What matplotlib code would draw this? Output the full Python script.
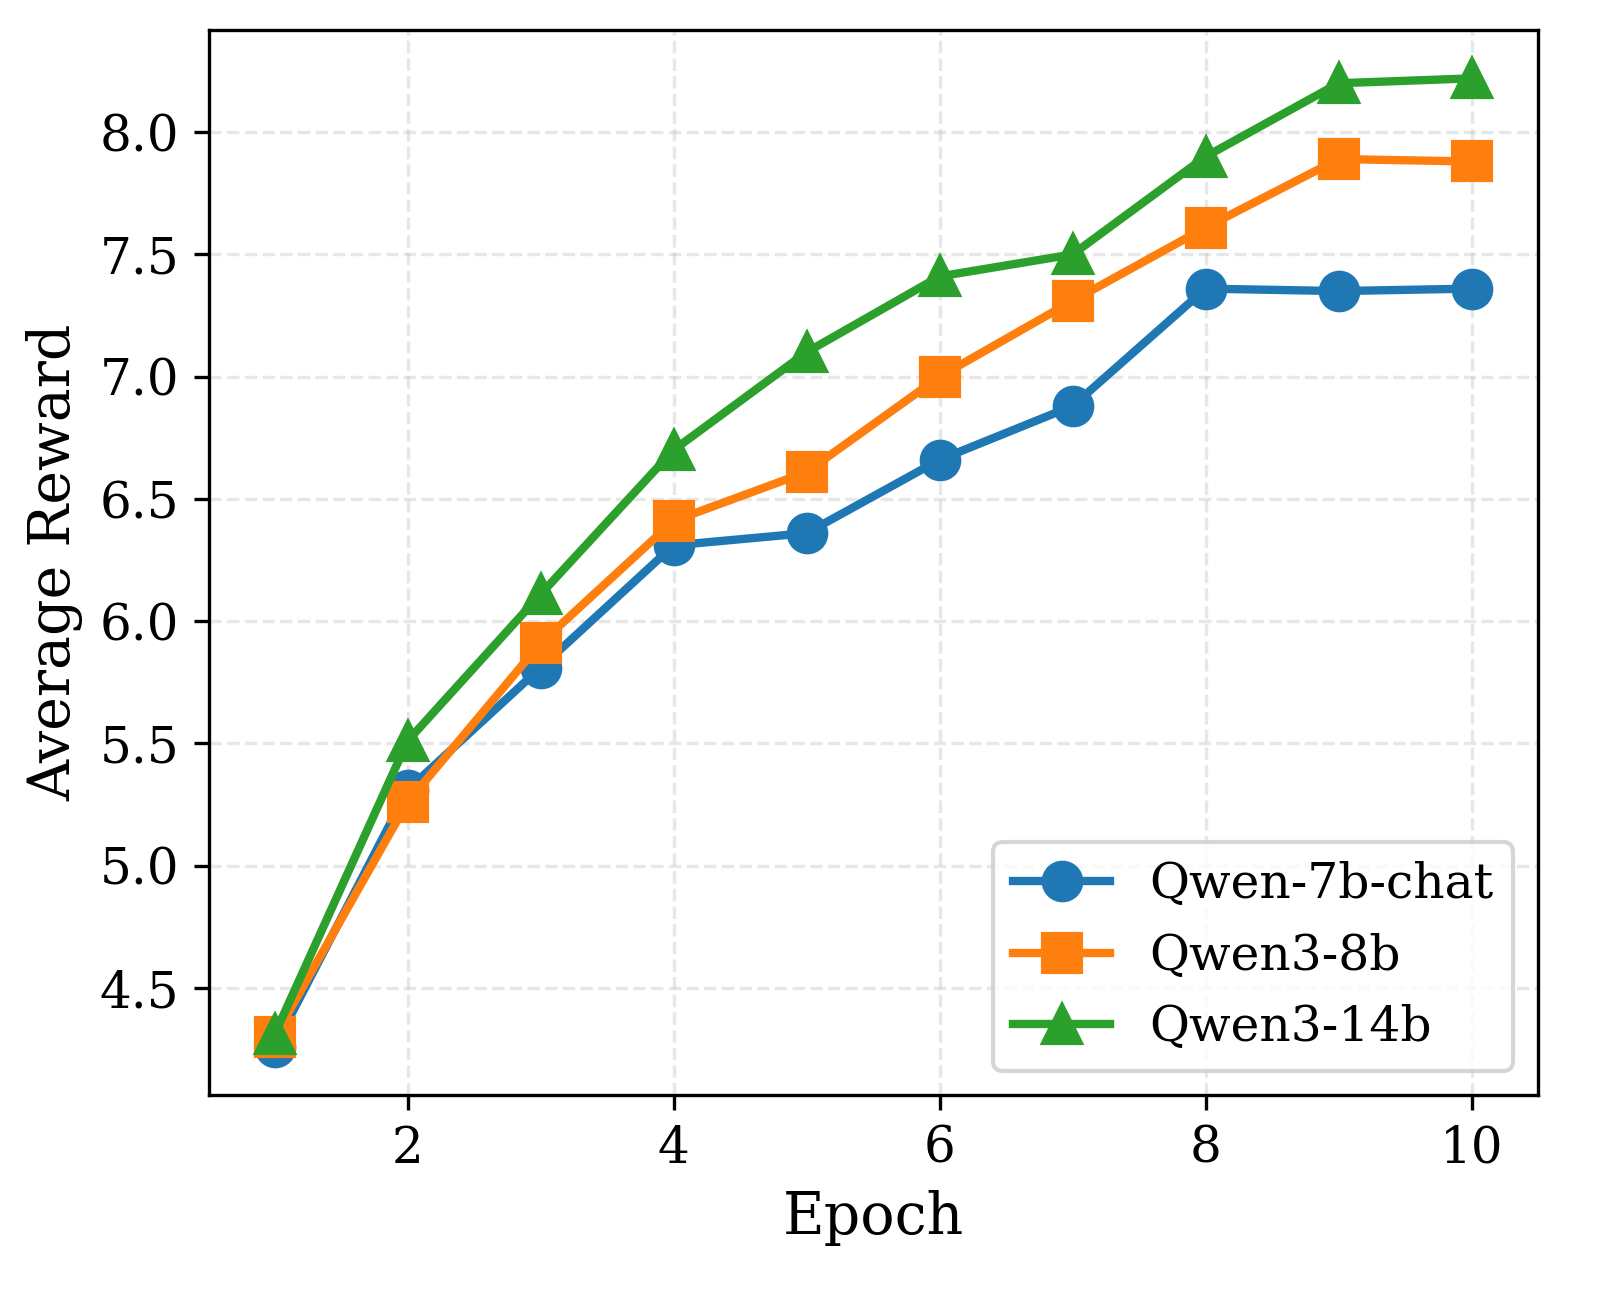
import matplotlib
matplotlib.use("Agg")
import matplotlib.pyplot as plt

plt.rcParams['font.family'] = 'DejaVu Serif'

epochs = [1, 2, 3, 4, 5, 6, 7, 8, 9, 10]
qwen_7b_chat = [4.26, 5.31, 5.81, 6.31, 6.36, 6.66, 6.88, 7.36, 7.35, 7.36]
qwen3_8b = [4.30, 5.26, 5.91, 6.41, 6.61, 7.00, 7.31, 7.61, 7.89, 7.88]
qwen3_14b = [4.31, 5.51, 6.11, 6.70, 7.10, 7.41, 7.50, 7.90, 8.20, 8.22]

fig, ax = plt.subplots(figsize=(5.35, 4.34), dpi=300)

ax.plot(epochs, qwen_7b_chat, marker='o', color='#1f77b4', lw=2, ms=9, label='Qwen-7b-chat')
ax.plot(epochs, qwen3_8b, marker='s', color='#ff7f0e', lw=2, ms=9, label='Qwen3-8b')
ax.plot(epochs, qwen3_14b, marker='^', color='#2ca02c', lw=2, ms=9, label='Qwen3-14b')

ax.set_xlim(0.504, 10.496)
ax.set_xlabel('Epoch', fontsize=13.7)
ax.set_ylabel('Average Reward', fontsize=13.7)
ax.tick_params(labelsize=12)
ax.grid(True, linestyle='--', alpha=0.3)
ax.legend(loc='lower right', fontsize=11.7)

fig.subplots_adjust(left=0.13, right=0.958, top=0.977, bottom=0.159)
fig.savefig('out.png', dpi=300)
